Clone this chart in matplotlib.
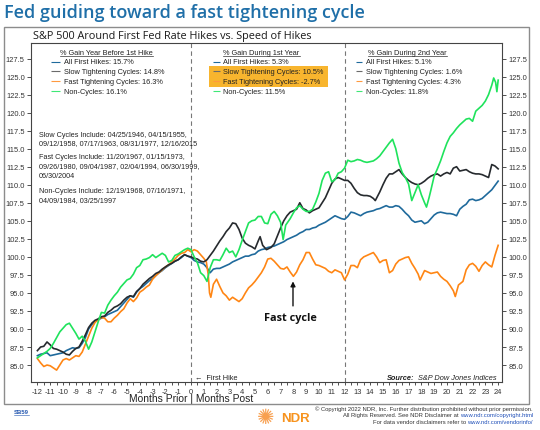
import matplotlib
matplotlib.use('Agg')
import matplotlib.pyplot as plt
from matplotlib.patches import Rectangle
from matplotlib.lines import Line2D
from matplotlib.transforms import blended_transform_factory

plt.rcParams['font.family'] = ['Liberation Sans', 'DejaVu Sans']
plt.rcParams['axes.unicode_minus'] = False

# ---------------- data ----------------
blue_months = [i / 4 for i in range(-48, 97)]
blue_vals = [86.3, 86.5, 86.6, 86.7, 86.3, 86.4, 86.5, 86.6, 86.7, 87.0,
             87.2, 87.4, 87.3, 87.4, 88.0, 88.8, 90.0, 90.6, 91.0, 91.3,
             91.5, 91.7, 92.0, 92.2, 92.4, 92.6, 93.1, 93.6, 94.1, 94.6,
             94.4, 95.1, 95.6, 95.9, 96.3, 96.7, 97.0, 97.4, 97.8, 98.1,
             98.5, 98.8, 99.1, 99.4, 99.6, 99.9, 100.3, 100.1, 99.9, 99.5,
             99.3, 99.2, 99.0, 98.5, 97.8, 98.3, 98.4, 98.4, 98.6, 98.8,
             99.0, 99.3, 99.5, 99.7, 99.9, 100.1, 100.1, 100.3, 100.4, 100.8,
             101.0, 101.1, 101.3, 101.4, 101.5, 101.7, 101.9, 102.1, 102.4, 102.6,
             102.8, 103.0, 103.3, 103.5, 103.8, 103.8, 104.0, 104.1, 104.4, 104.6,
             104.8, 105.1, 105.4, 105.7, 105.5, 105.3, 105.2, 105.6, 106.2, 106.1,
             105.9, 105.7, 106.0, 106.2, 106.3, 106.4, 106.6, 106.7, 106.9, 107.1,
             106.9, 106.9, 107.1, 107.0, 106.6, 106.1, 105.7, 105.1, 104.8, 104.9,
             105.0, 104.6, 104.8, 105.3, 105.8, 106.1, 106.2, 106.1, 106.0, 106.0,
             105.9, 105.7, 106.6, 107.0, 107.3, 107.9, 108.0, 107.8, 107.9, 108.1,
             108.5, 108.9, 109.3, 109.9, 110.5]

slow_months = [-12.0, -11.75, -11.5, -11.25, -11.0, -10.75, -10.5, -10.25, -10.0, -9.75,
               -9.5, -9.25, -9.0, -8.75, -8.5, -8.25, -8.0, -7.75, -7.5, -7.25,
               -7.0, -6.75, -6.5, -6.25, -6.0, -5.75, -5.5, -5.25, -5.0, -4.75,
               -4.5, -4.25, -4.0, -3.75, -3.5, -3.25, -3.0, -2.75, -2.5, -2.25,
               -2.0, -1.75, -1.5, -1.25, -1.0, -0.75, -0.5, -0.25, 0.0, 0.25,
               0.5, 0.75, 1.0, 1.25, 1.5, 1.75, 2.0, 2.25, 2.5, 2.75,
               3.0, 3.25, 3.5, 3.75, 4.0, 4.25, 4.5, 4.75, 5.0, 5.25,
               5.4, 5.6, 5.9, 6.25, 6.5, 6.75, 7.0, 7.25, 7.5, 7.75,
               8.0, 8.25, 8.5, 8.75, 9.0, 9.25, 9.5, 9.75, 10.0, 10.25,
               10.5, 10.75, 11.0, 11.25, 11.5, 11.75, 12.0, 12.25, 12.5, 12.75,
               13.0, 13.25, 13.5, 13.75, 14.0, 14.25, 14.4, 14.75, 15.0, 15.25,
               15.5, 15.75, 16.0, 16.25, 16.5, 16.75, 17.0, 17.25, 17.5, 17.75,
               18.0, 18.25, 18.5, 18.75, 19.0, 19.25, 19.5, 19.75, 20.0, 20.25,
               20.5, 20.75, 21.0, 21.25, 21.5, 21.75, 22.0, 22.25, 22.5, 22.75,
               23.0, 23.25, 23.5, 23.75, 24.0]
slow_vals = [87.0, 87.5, 87.6, 88.2, 87.8, 87.3, 87.2, 87.0, 86.8, 86.5,
             86.4, 86.9, 87.3, 87.5, 88.3, 89.2, 90.2, 90.8, 91.2, 91.4,
             91.7, 91.8, 92.3, 92.6, 93.0, 93.2, 93.5, 94.0, 94.4, 94.6,
             94.5, 95.2, 95.6, 96.2, 96.6, 97.0, 97.3, 97.7, 97.9, 98.3,
             98.6, 98.9, 99.1, 99.4, 99.6, 100.0, 100.3, 100.1, 100.0, 99.8,
             99.7, 99.4, 99.3, 99.6, 100.2, 100.8, 101.5, 102.2, 102.8, 103.5,
             104.0, 104.7, 104.6, 103.8, 102.6, 101.9, 101.6, 101.4, 101.1, 102.2,
             102.8, 101.6, 101.0, 101.3, 101.8, 102.9, 104.0, 105.0, 105.7, 106.2,
             106.4, 106.6, 107.5, 106.7, 106.5, 106.1, 106.4, 106.6, 106.8, 107.5,
             108.2, 109.2, 110.2, 110.8, 111.0, 110.8, 110.6, 110.6, 110.2, 109.5,
             108.9, 108.6, 108.5, 108.5, 108.4, 108.1, 107.8, 109.0, 110.0, 110.9,
             111.5, 111.5, 111.8, 112.1, 111.5, 111.0, 110.6, 110.3, 110.1, 110.0,
             110.2, 110.5, 110.9, 111.2, 111.4, 111.5, 111.2, 111.5, 111.7, 111.5,
             112.3, 112.5, 111.9, 112.0, 112.1, 111.8, 111.6, 111.5, 111.5, 111.4,
             111.2, 111.0, 112.8, 112.6, 112.2]

fast_months = [-12.0, -11.75, -11.5, -11.25, -11.0, -10.75, -10.5, -10.25, -10.0, -9.75,
               -9.5, -9.25, -9.0, -8.75, -8.5, -8.25, -8.0, -7.75, -7.5, -7.25,
               -7.0, -6.75, -6.5, -6.25, -6.0, -5.75, -5.5, -5.25, -5.0, -4.75,
               -4.5, -4.25, -4.0, -3.75, -3.5, -3.25, -3.0, -2.75, -2.5, -2.25,
               -2.0, -1.75, -1.5, -1.25, -1.0, -0.75, -0.5, -0.25, 0.0, 0.25,
               0.5, 0.75, 1.0, 1.2, 1.35, 1.45, 1.55, 1.75, 2.0, 2.25,
               2.5, 2.75, 3.0, 3.25, 3.5, 3.75, 4.0, 4.25, 4.5, 4.75,
               5.0, 5.25, 5.5, 5.75, 6.0, 6.25, 6.5, 6.75, 7.0, 7.25,
               7.5, 7.75, 8.0, 8.25, 8.5, 8.75, 9.0, 9.25, 9.5, 9.75,
               10.0, 10.25, 10.5, 10.75, 11.0, 11.25, 11.5, 11.75, 12.0, 12.25,
               12.5, 12.75, 13.0, 13.25, 13.5, 13.75, 14.0, 14.25, 14.5, 14.75,
               15.0, 15.25, 15.5, 15.75, 16.0, 16.25, 16.5, 16.75, 17.0, 17.25,
               17.5, 17.75, 17.9, 18.25, 18.5, 18.75, 19.0, 19.25, 19.5, 19.75,
               20.0, 20.25, 20.5, 20.65, 20.9, 21.25, 21.5, 21.75, 22.0, 22.25,
               22.5, 22.75, 23.0, 23.25, 23.5, 23.75, 24.0]
fast_vals = [85.9, 85.3, 84.8, 85.0, 84.9, 84.6, 84.3, 85.0, 85.7, 85.9,
             85.7, 86.0, 86.3, 86.2, 86.8, 87.9, 89.0, 90.1, 90.9, 91.3,
             91.6, 91.5, 91.0, 91.0, 91.5, 91.9, 92.4, 92.8, 93.6, 94.2,
             93.8, 94.3, 95.1, 95.4, 95.8, 96.1, 96.9, 97.4, 97.8, 98.2,
             98.6, 98.9, 99.3, 99.7, 100.2, 100.5, 100.6, 101.0, 100.7, 101.0,
             100.8, 100.3, 99.8, 99.3, 97.5, 95.0, 94.4, 96.2, 96.9, 95.9,
             95.0, 94.6, 94.0, 94.4, 94.1, 93.8, 94.2, 95.0, 95.7, 96.1,
             96.6, 97.2, 97.8, 98.6, 99.7, 99.8, 99.4, 98.9, 98.4, 98.3,
             98.6, 97.9, 97.3, 97.9, 98.9, 99.6, 100.6, 100.6, 99.7, 98.9,
             98.8, 98.6, 98.4, 98.0, 97.8, 98.2, 98.0, 97.8, 96.8, 97.6,
             98.8, 98.8, 98.5, 99.6, 100.0, 100.2, 100.4, 100.6, 100.0, 99.2,
             99.5, 99.6, 97.8, 98.1, 99.0, 99.5, 99.7, 99.9, 100.0, 99.1,
             98.4, 97.6, 96.8, 98.1, 97.9, 97.7, 97.8, 97.9, 97.3, 96.9,
             96.6, 96.0, 95.3, 94.5, 96.1, 96.6, 98.2, 98.9, 99.1, 98.7,
             98.0, 98.8, 99.3, 98.9, 98.6, 100.2, 101.6]

non_months = [-12.0, -11.75, -11.5, -11.25, -11.0, -10.75, -10.5, -10.25, -10.0, -9.75,
              -9.5, -9.25, -9.0, -8.75, -8.5, -8.25, -8.0, -7.75, -7.5, -7.25,
              -7.0, -6.75, -6.5, -6.25, -6.0, -5.75, -5.5, -5.25, -5.0, -4.75,
              -4.5, -4.25, -4.0, -3.75, -3.5, -3.25, -3.0, -2.75, -2.5, -2.25,
              -2.0, -1.75, -1.5, -1.25, -1.0, -0.75, -0.5, -0.25, 0.0, 0.25,
              0.5, 0.75, 1.0, 1.25, 1.5, 1.75, 2.0, 2.25, 2.5, 2.75,
              3.0, 3.25, 3.5, 3.75, 4.0, 4.25, 4.5, 4.75, 5.0, 5.25,
              5.5, 5.75, 6.0, 6.25, 6.5, 6.75, 7.0, 7.2, 7.4, 7.75,
              8.0, 8.25, 8.5, 8.75, 9.0, 9.25, 9.5, 9.75, 10.0, 10.25,
              10.5, 10.75, 11.0, 11.25, 11.5, 11.75, 12.0, 12.25, 12.5, 12.75,
              13.0, 13.25, 13.5, 13.75, 14.0, 14.25, 14.5, 14.75, 15.0, 15.25,
              15.5, 15.75, 16.0, 16.25, 16.5, 16.75, 17.0, 17.25, 17.5, 17.75,
              18.0, 18.25, 18.4, 18.6, 18.75, 19.0, 19.25, 19.5, 19.75, 20.0,
              20.25, 20.5, 20.75, 21.0, 21.25, 21.5, 21.75, 22.0, 22.25, 22.5,
              22.75, 23.0, 23.25, 23.5, 23.65, 23.8, 23.9, 24.0]
non_vals = [86.0, 86.3, 86.6, 86.9, 87.3, 88.0, 88.8, 89.6, 90.1, 90.6,
            90.8, 90.1, 89.4, 88.6, 89.0, 88.3, 87.2, 88.2, 89.6, 91.0,
            92.3, 92.2, 93.3, 94.0, 94.6, 95.1, 95.8, 96.3, 96.8, 97.0,
            97.6, 98.5, 98.8, 99.6, 99.7, 99.9, 100.3, 99.9, 100.2, 100.5,
            100.2, 99.3, 99.5, 100.2, 100.4, 100.7, 101.0, 101.2, 101.0, 100.0,
            99.2, 97.8, 97.4, 96.6, 98.5, 99.6, 99.6, 99.5, 100.3, 101.2,
            100.6, 100.8, 100.0, 101.0, 102.3, 103.5, 104.7, 105.0, 105.1, 105.6,
            105.6, 104.7, 104.6, 105.9, 106.3, 105.7, 104.8, 102.4, 104.4, 105.3,
            106.1, 106.8, 107.1, 106.6, 106.3, 106.3, 106.6, 107.6, 108.8, 110.6,
            111.6, 111.8, 110.4, 110.7, 111.6, 111.8, 112.3, 113.4, 113.2, 113.3,
            113.5, 113.4, 113.2, 113.1, 113.2, 113.3, 113.6, 114.0, 114.6, 115.2,
            115.8, 116.3, 115.0, 113.0, 111.7, 111.0, 110.1, 107.8, 108.9, 110.0,
            108.6, 107.5, 106.9, 108.2, 109.3, 111.2, 112.2, 113.3, 114.6, 115.8,
            116.7, 117.2, 117.8, 118.3, 118.7, 119.1, 119.2, 118.8, 120.2, 120.6,
            121.0, 121.6, 122.5, 123.8, 124.8, 124.2, 122.9, 124.5]

series_names = ["All First Hikes", "Slow Tightening Cycles", "Fast Tightening Cycles", "Non-Cycles"]
gain_year_before = ["15.7%", "14.8%", "16.3%", "16.1%"]
gain_first_year = ["5.3%", "10.5%", "-2.7%", "11.5%"]
gain_second_year = ["5.1%", "1.6%", "4.3%", "11.8%"]
block_titles = ["% Gain Year Before 1st Hike", "% Gain During 1st Year", "% Gain During 2nd Year"]

notes = ["Slow Cycles Include: 04/25/1946, 04/15/1955,",
         "09/12/1958, 07/17/1963, 08/31/1977, 12/16/2015",
         "Fast Cycles Include: 11/20/1967, 01/15/1973,",
         "09/26/1980, 09/04/1987, 02/04/1994, 06/30/1999,",
         "06/30/2004",
         "Non-Cycles Include: 12/19/1968, 07/16/1971,",
         "04/09/1984, 03/25/1997"]

x_ticks = list(range(-12, 25))
y_ticks = [85.0, 87.5, 90.0, 92.5, 95.0, 97.5, 100.0, 102.5, 105.0, 107.5,
           110.0, 112.5, 115.0, 117.5, 120.0, 122.5, 125.0, 127.5]

# ---------------- styling ----------------
C_BLUE = '#1f6a9c'
C_SLOW = '#262a2e'
C_FAST = '#ff8614'
C_NON = '#1fe35c'
C_LEG = [C_BLUE, '#6b6b6b', '#ff9a40', '#3fe876']

W, H = 540, 431
fig = plt.figure(figsize=(5.4, 4.31), dpi=100)


def fx(px):
    return px / W


def fy(py):
    return 1 - py / H


ax = fig.add_axes([fx(31), fy(383), fx(502) - fx(31), fy(44) - fy(383)])
ax.set_xlim(-12.5, 24.3)
ax.set_ylim(82.65, 129.65)

ax.plot(blue_months, blue_vals, color=C_BLUE, lw=1.2, zorder=3)
ax.plot(fast_months, fast_vals, color=C_FAST, lw=1.2, zorder=3)
ax.plot(slow_months, slow_vals, color=C_SLOW, lw=1.2, zorder=4)
ax.plot(non_months, non_vals, color=C_NON, lw=1.2, zorder=4)

for xv in (0, 12):
    ax.axvline(xv, color='#777777', lw=0.8, ls=(0, (4, 3)), zorder=1)

ax.set_xticks(x_ticks)
ax.set_xticks([t + 0.5 for t in x_ticks[:-1]], minor=True)
ax.set_yticks(y_ticks)
ax.set_yticklabels([f"{v:.1f}" for v in y_ticks])
ax.tick_params(axis='both', which='both', direction='out', colors='#333333',
               labelsize=5.4, width=0.6)
ax.tick_params(axis='y', length=3, pad=1.5, right=True, labelright=True)
ax.tick_params(axis='x', which='major', length=2.5, pad=1.5)
ax.tick_params(axis='x', which='minor', length=2)
for s in ax.spines.values():
    s.set_color('#444444')
    s.set_linewidth(0.8)

# ---------------- legend blocks ----------------
row_y = [127.04, 125.7, 124.35, 122.96]
head_y = 128.38
blocks = [
    (-6.6, -10.9, -10.2, -9.95, gain_year_before),
    (5.5, 1.7, 2.25, 2.5, gain_first_year),
    (16.9, 12.9, 13.4, 13.7, gain_second_year),
]
ax.add_patch(Rectangle((1.37, 123.57), 9.33, 2.96, facecolor='#f8b52e',
                       edgecolor='none', zorder=2))
headings = []
for (hc, m0, m1, tx, vals), title in zip(blocks, block_titles):
    h = ax.text(hc, head_y, title, ha='center', va='center', fontsize=5.3,
                color='#222222', zorder=5)
    headings.append(h)
    for i in range(4):
        ax.plot([m0, m1], [row_y[i], row_y[i]], color=C_LEG[i], lw=0.8,
                zorder=5, solid_capstyle='butt')
        ax.text(tx, row_y[i], f"{series_names[i]}: {vals[i]}", ha='left',
                va='center', fontsize=5.3, color='#222222', zorder=5)

note_y = [117.0, 115.8, 113.85, 112.6, 111.3, 109.2, 108.0]
for t, yv in zip(notes, note_y):
    ax.text(-11.9, yv, t, ha='left', va='center', fontsize=5.2, color='#222222')

# annotations
ax.text(7.8, 91.6, "Fast cycle", ha='center', va='center', fontsize=7.8,
        fontweight='bold', family=['Open Sans', 'DejaVu Sans'], color='#111111')
ax.annotate('', xy=(7.97, 96.6), xytext=(7.97, 93.2),
            arrowprops=dict(arrowstyle='-|>', color='#111111', lw=1.0,
                            mutation_scale=7, shrinkA=0, shrinkB=0))
ax.text(0.3, 83.25, "\u2190  First Hike", ha='left', va='center', fontsize=5.3,
        color='#222222')
src2 = ax.text(23.9, 83.25, "S&P Dow Jones Indices", ha='right', va='center',
               fontsize=5.3, style='italic', color='#222222')

bt = blended_transform_factory(ax.transData, fig.transFigure)
ax.text(0, fy(399.5), "Months Prior | Months Post", transform=bt, ha='center',
        va='center', fontsize=7.4, color='#222222')

# ---------------- figure decorations ----------------
fig.text(fx(4), fy(13), "Fed guiding toward a fast tightening cycle",
         fontsize=13, color='#1f6fa8', family=['Open Sans', 'DejaVu Sans'],
         fontweight='semibold', ha='left', va='center')
fig.add_artist(Rectangle((fx(4), fy(405)), fx(529) - fx(4), fy(28) - fy(405),
                         transform=fig.transFigure, fill=False,
                         edgecolor='#8c8c8c', lw=1))
fig.text(fx(33), fy(36.5), "S&P 500 Around First Fed Rate Hikes vs. Speed of Hikes",
         fontsize=7.8, color='#1a1a1a', family=['Open Sans', 'DejaVu Sans'],
         ha='left', va='center')

sb = fig.text(fx(14), fy(413), "SB59", fontsize=4.3, color='#2457b0',
              fontweight='bold', ha='left', va='center')
fig.text(fx(266), fy(418), "\u273a", fontsize=15, color='#f8a050',
         family=['DejaVu Sans'], ha='center', va='center')
fig.text(fx(281), fy(419.5), "NDR", fontsize=9.5, color='#f7931e',
         fontweight='bold', ha='left', va='center')

fig.text(fx(533), fy(409), "\u00a9 Copyright 2022 NDR, Inc. Further distribution prohibited without prior permission.",
         fontsize=4.2, color='#333333', ha='right', va='center')
url1 = fig.text(fx(533), fy(416), "www.ndr.com/copyright.html", fontsize=4.2,
                color='#1f4fb8', ha='right', va='center')
url2 = fig.text(fx(533), fy(423), "www.ndr.com/vendorinfo/", fontsize=4.2,
                color='#1f4fb8', ha='right', va='center')

fig.canvas.draw()
r = fig.canvas.get_renderer()
inv = fig.transFigure.inverted()


def fig_bbox(t):
    bb = t.get_window_extent(renderer=r)
    (x0, y0), (x1, y1) = inv.transform([[bb.x0, bb.y0], [bb.x1, bb.y1]])
    return x0, y0, x1, y1


x0, y0, x1, y1 = fig_bbox(url1)
fig.text(x0, fy(416), "All Rights Reserved. See NDR Disclaimer at ", fontsize=4.2,
         color='#333333', ha='right', va='center')
x0, y0, x1, y1 = fig_bbox(url2)
fig.text(x0, fy(423), "For data vendor disclaimers refer to ", fontsize=4.2,
         color='#333333', ha='right', va='center')

x0, y0, x1, y1 = fig_bbox(src2)
fig.text(x0 - fx(4), (y0 + y1) / 2, "Source:", fontsize=5.3, style='italic',
         fontweight='bold', color='#222222', ha='right', va='center')

for h in headings:
    x0, y0, x1, y1 = fig_bbox(h)
    fig.add_artist(Line2D([x0, x1], [y0 - 0.001, y0 - 0.001],
                          transform=fig.transFigure, color='#333333', lw=0.5))
x0, y0, x1, y1 = fig_bbox(sb)
fig.add_artist(Line2D([x0, x1], [y0, y0], transform=fig.transFigure,
                      color='#2457b0', lw=0.4))

fig.savefig('out.png', dpi=100)
